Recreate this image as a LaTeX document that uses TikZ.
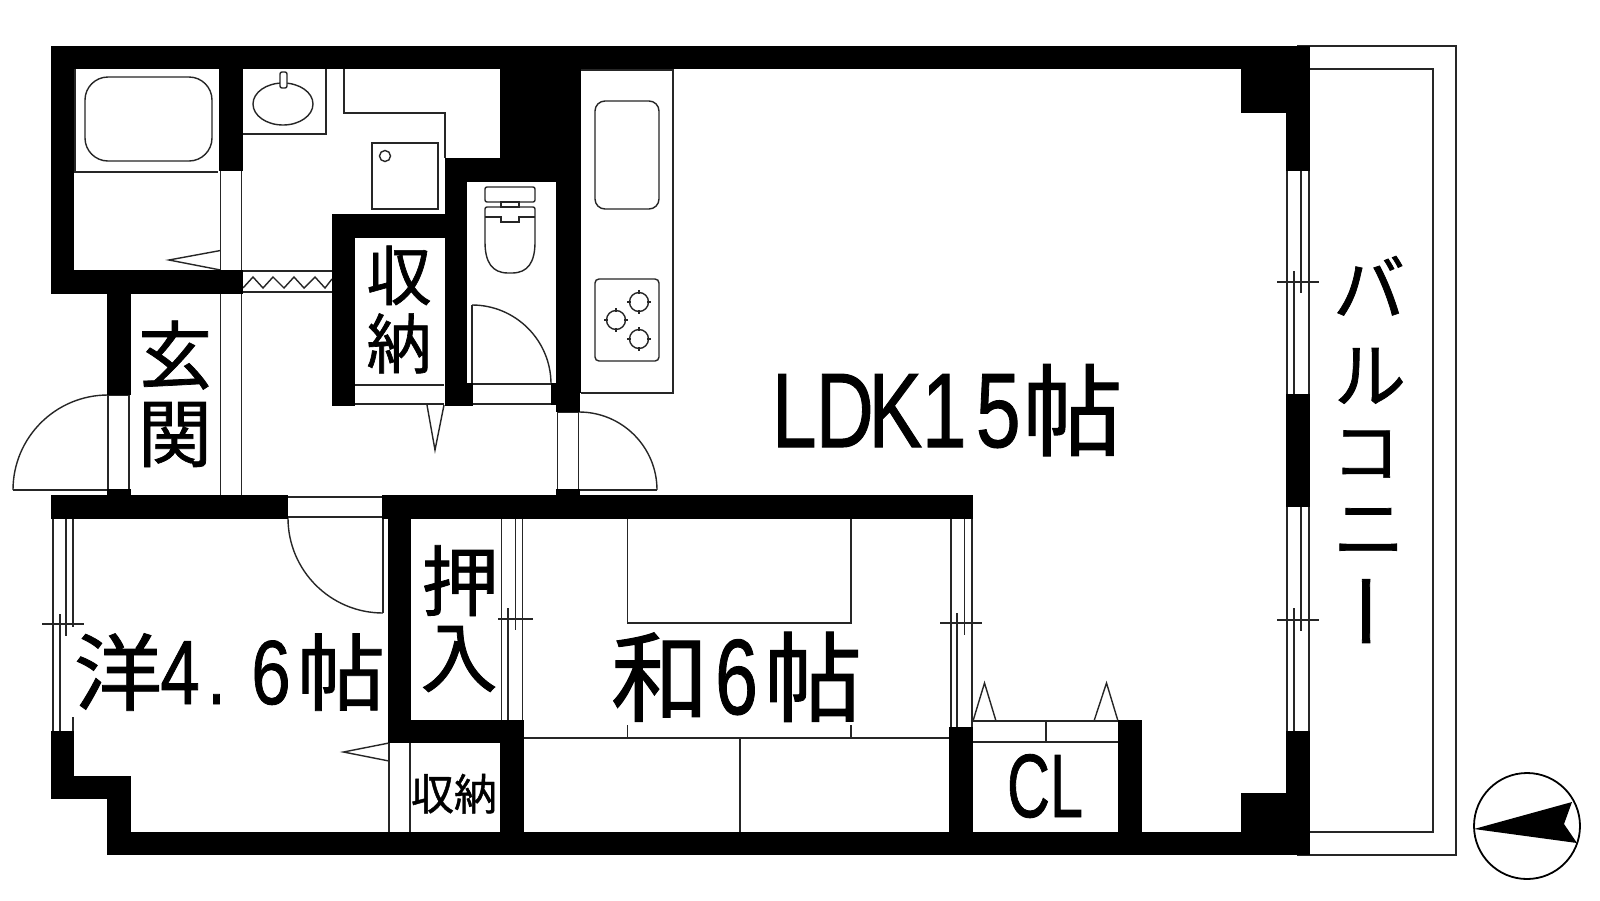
\documentclass[tikz,border=0pt]{standalone}
\usepackage{fontspec}
\newfontfamily\jpf[FakeBold=1.0]{Noto Sans CJK JP}
\newfontfamily\latf[FakeBold=1.0]{Liberation Sans}
\newcommand{\hw}[2][0.70]{\scalebox{#1}[1]{\latf #2}}
\newcommand{\sz}[1]{\fontsize{#1}{#1}\selectfont}
\newcommand{\cellbox}[2]{\makebox[#1pt][c]{#2}}
\tikzset{
  wall/.style={fill=black,draw=none},
  ln/.style={draw=black!85,line width=1.4pt},
  lbl/.style={inner sep=0pt,outer sep=0pt,anchor=base,text=black},
}
\begin{document}
\begin{tikzpicture}[x=1pt,y=-1pt,line join=miter]
\useasboundingbox (0,0) rectangle (1600,900);
\fill[white] (0,0) rectangle (1600,900);
% thin lines first
\begin{scope}[ln]
 % bath
 \draw (75,69) -- (75,172) -- (218,172);
 \draw[rounded corners=23pt] (85,77) rectangle (212,161);
 \draw (220.5,171) -- (220.5,270) (241.5,171) -- (241.5,270);
 \draw (220.5,294) -- (220.5,495) (241.5,294) -- (241.5,495);
 \draw (220.5,250.5) -- (169,260) -- (220.5,270);
 % basin
 \draw (326,69) -- (326,134) -- (243,134);
 \draw (283,104) ellipse [x radius=30pt,y radius=21pt];
 \draw[fill=white,rounded corners=2pt] (280,72) rectangle (287,88);
 % laundry
 \draw (344,69) -- (344,113) -- (445,113) -- (445,158);
 \draw (372,143) rectangle (438,209);
 \draw (385,156) circle [radius=5.5pt];
 % sliding
 \draw (243,271) -- (332,271) (243,292) -- (332,292);
 \draw (243,288) -- (253,277) -- (263,288) -- (273,277) -- (284,288) -- (294,277) -- (304,288) -- (315,277) -- (325,288) -- (332,279);
 % storage door
 \draw (355,385) -- (444,385) (355,404) -- (444,404);
 \draw (427,405) -- (435,450) -- (444,405);
 % toilet
 \draw[rounded corners=2pt] (485,187) rectangle (535,202);
 \draw (501,202) rectangle (519,207);
 \draw[rounded corners=2pt] (510,207) -- (485,207) -- (485,240) .. controls (485,262) and (492,273) .. (510,273) .. controls (528,273) and (535,262) .. (535,240) -- (535,207) -- (510,207);
 \draw (485,217) -- (501,217) -- (501,222) -- (519,222) -- (519,217) -- (535,217);
 \draw (472,305) -- (472,384);
 \draw (472,305) arc [start angle=90,end angle=0,radius=79pt];
 \draw (473,384) -- (551,384) (473,404) -- (551,404);
 % kitchen
 \draw (581,70) -- (673,70) -- (673,393) -- (581,393);
 \draw[rounded corners=10pt] (595,101) rectangle (659,209);
 \draw[rounded corners=4pt] (595,279) rectangle (659,361);
 \foreach \bx/\by in {639/302,616/320,639/339}{
   \draw (\bx,\by) circle [radius=9.5pt];
   \draw (\bx-12,\by) -- (\bx-8,\by) (\bx+8,\by) -- (\bx+12,\by) (\bx,\by-12) -- (\bx,\by-8) (\bx,\by+8) -- (\bx,\by+12);
 }
 % LDK door
 \draw (557.5,412) -- (557.5,489) (578.7,412) -- (578.7,490) -- (657,490);
 \draw (557.5,412) -- (579,412);
 \draw (579,412) arc [start angle=90,end angle=0,radius=78pt];
 % entry door
 \draw (108,395) -- (108,490) -- (13,490);
 \draw (129,395) -- (129,490) (108,395) -- (129,395);
 \draw (108,395) arc [start angle=90,end angle=180,radius=95pt];
 % room door
 \draw (288,497) -- (382,497) (288,517) -- (382,517);
 \draw (383,519) -- (383,613);
 \draw (288,518) arc [start angle=180,end angle=270,radius=95pt];
 % west window
 \draw (53,519) -- (53,731);
 \draw (73,519) -- (73,627) (73,717) -- (73,731);
 \draw (60,614) -- (60,731) (66,519) -- (66,636);
 \draw (42,624) -- (84,624);
 % closet window
 \draw (501.5,519) -- (501.5,720) (522.5,519) -- (522.5,720);
 \draw (508,608) -- (508,720) (515.5,519) -- (515.5,630);
 \draw (498,619) -- (533,619);
 % washitsu window
 \draw (951,519) -- (951,727) (972,519) -- (972,727);
 \draw (957,613) -- (957,727) (964.5,519) -- (964.5,635);
 \draw (940,623) -- (982,623);
 % tatami
 \draw (627.5,519) -- (627.5,623) -- (851,623) -- (851,519);
 \draw (627.5,725) -- (627.5,738) (851,725) -- (851,738);
 \draw (524,738) -- (949,738);
 \draw (740,738) -- (740,832);
 % small storage door
 \draw (389,743) -- (389,832) (410,743) -- (410,832);
 \draw (389,743) -- (343.5,752) -- (389,761);
 % CL
 \draw (973,721) -- (1118,721) (973,742) -- (1118,742) (1046,721) -- (1046,742);
 \draw (973,721) -- (984.5,683) -- (996,721);
 \draw (1094,721) -- (1106.5,683) -- (1118,721);
 % east windows
 \draw (1287,171) -- (1287,394) (1309,171) -- (1309,394);
 \draw (1294,271) -- (1294,394) (1301,171) -- (1301,293);
 \draw (1277,282) -- (1319,282);
 \draw (1287,507) -- (1287,731) (1309,507) -- (1309,731);
 \draw (1294,608) -- (1294,731) (1301,507) -- (1301,631);
 \draw (1277,620) -- (1319,620);
 % balcony
 \draw (1297,46) -- (1456,46) -- (1456,855) -- (1297,855);
 \draw (1310,69) -- (1433,69) -- (1433,832) -- (1310,832);
\end{scope}
% walls
\fill[wall] (51,46) rectangle (1310,69);
\fill[wall] (51,46) rectangle (74,294);
\fill[wall] (219,46) rectangle (243,171);
\fill[wall] (51,270) rectangle (243,294);
\fill[wall] (107,294) rectangle (131,395);
\fill[wall] (107,489) rectangle (131,495);
\fill[wall] (51,495) rectangle (288,519);
\fill[wall] (382,495) rectangle (973,519);
\fill[wall] (500,46) rectangle (581,182);
\fill[wall] (445,158) rectangle (500,182);
\fill[wall] (445,158) rectangle (467,406);
\fill[wall] (332,214) rectangle (445,238);
\fill[wall] (332,214) rectangle (355,406);
\fill[wall] (467,383) rectangle (473,406);
\fill[wall] (556,182) rectangle (580,412);
\fill[wall] (580,182) rectangle (581,393);
\fill[wall] (551,383) rectangle (556,405);
\fill[wall] (556,489) rectangle (580,495);
\fill[wall] (388,519) rectangle (411,743);
\fill[wall] (388,720) rectangle (523.5,743);
\fill[wall] (500,720) rectangle (523.5,832);
\fill[wall] (51,731) rectangle (74,799);
\fill[wall] (51,776) rectangle (131,799);
\fill[wall] (107,776) rectangle (131,855);
\fill[wall] (107,832) rectangle (1310,855);
\fill[wall] (949,727) rectangle (973,832);
\fill[wall] (1118,720) rectangle (1142,832);
\fill[wall] (1241,69) rectangle (1310,113);
\fill[wall] (1286,69) rectangle (1310,171);
\fill[wall] (1286,394) rectangle (1310,507);
\fill[wall] (1286,731) rectangle (1310,855);
\fill[wall] (1241,793) rectangle (1310,855);
% compass
\draw[line width=1.8pt,fill=white] (1527,826) circle [radius=53pt];
\fill (1474,829) -- (1572,802) -- (1564,824) -- (1577,843) -- cycle;
% labels
\node[lbl] (shu1) at (399,300) {\jpf\sz{65}収};
\node[lbl] (nou1) at (399,368) {\jpf\sz{65}納};
\node[lbl] (gen) at (175,383) {\jpf\sz{74}玄};
\node[lbl] (kan) at (175,461) {\jpf\sz{74}関};
\node[lbl] (osi) at (460,610) {\jpf\sz{77}押};
\node[lbl] (iri) at (459,686) {\jpf\sz{77}入};
\node[lbl] (shuu2) at (454,810) {\jpf\sz{43}収納};
\node[lbl,anchor=base west] (you) at (74,704) {\jpf\sz{84}\cellbox{88}{\scalebox{1.05}[1]{洋}}\kern-2pt\cellbox{40}{\hw[0.78]{\sz{91}4}}\kern2pt\cellbox{29}{\hw{\sz{91}.}}\kern16pt\cellbox{48}{\hw[0.78]{\sz{91}6}}\kern2pt\cellbox{88}{\scalebox{1.05}[1]{帖}}};
\node[lbl,anchor=base west] (wa) at (610,714) {\jpf\sz{98}\cellbox{100}{和}\cellbox{53}{\hw[0.72]{\sz{107}6}}\cellbox{100}{帖}};
\node[lbl] (cl) at (1045,817) {\hw[0.66]{\sz{90}CL}};
\node[lbl,anchor=base west] (ldk) at (769,447) {\cellbox{50.5}{\hw[0.76]{\sz{106}L}}\cellbox{50.5}{\hw[0.76]{\sz{106}D}}\cellbox{50.5}{\hw[0.76]{\sz{106}K}}\kern-1.5pt\cellbox{50.5}{\hw[0.76]{\sz{106}1}}\kern3.5pt\cellbox{50.5}{\hw[0.76]{\sz{106}5}}\kern-1pt\raisebox{-1pt}{\cellbox{100}{\jpf\sz{100}帖}}};
\node[lbl] (ba) at (1369,315) {\jpf\sz{72}バ};
\node[lbl] (ru) at (1370,402) {\jpf\sz{72}ル};
\node[lbl] (ko) at (1366,477) {\jpf\sz{68}コ};
\node[lbl] (ni) at (1369,555) {\jpf\sz{72}ニ};
\node[inner sep=0pt,rotate=90,text=black] (bo) at (1379.5,611) {\jpf\sz{80}ー};
\end{tikzpicture}
\end{document}
